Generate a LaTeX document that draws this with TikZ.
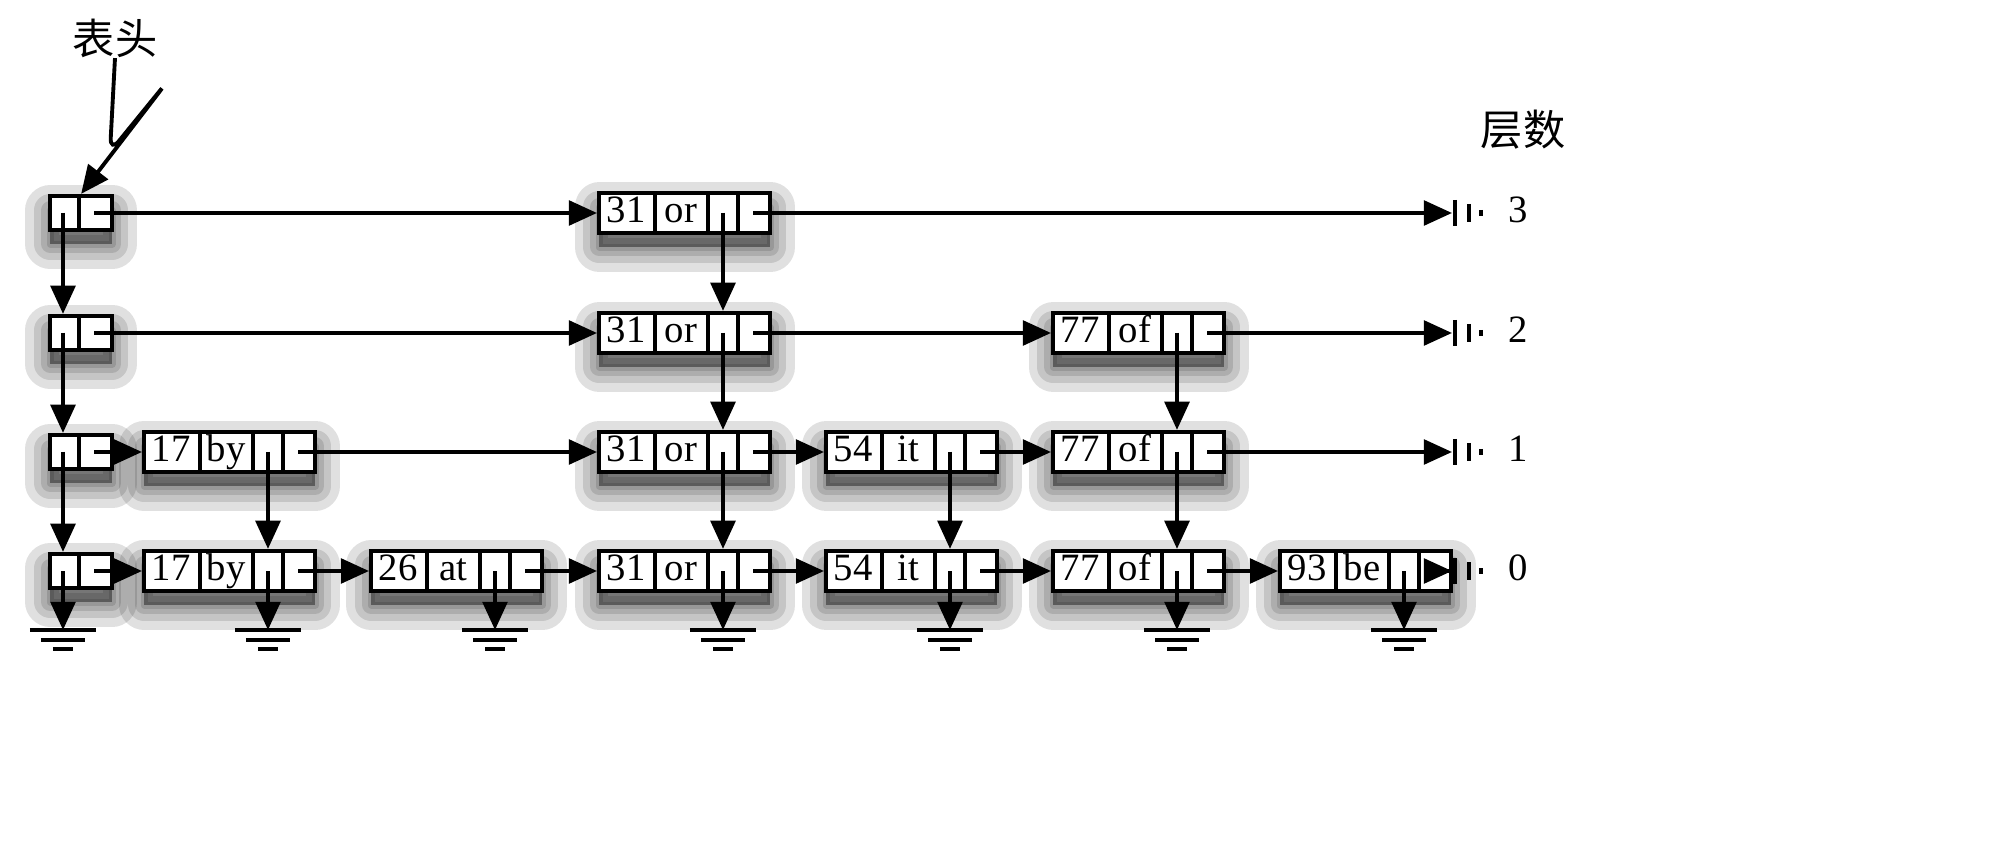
\documentclass[tikz,border=0pt]{standalone}
\usepackage{fontspec}
\setmainfont{Liberation Serif}
\newfontfamily\cjk{Noto Sans CJK SC}
\usetikzlibrary{arrows.meta}

\tikzset{
  softshadow/.style={preaction={draw=black, fill=black, line width=#1, opacity=0.12,
    line join=round, transform canvas={yshift=-4pt}}},
  rec/.style={draw, line width=1.2pt, fill=white, minimum width=1.71cm, minimum height=0.4cm,
    inner sep=0pt, anchor=west,
    softshadow=14pt, softshadow=9pt, softshadow=5pt, softshadow=2pt},
  hd/.style={rec, minimum width=0.62cm, minimum height=0.34cm},
  arr/.style={line width=1.1pt, -{Triangle[length=8pt,width=7pt]}},
  lbl/.style={font=\fontsize{11}{13}\selectfont, inner sep=0pt, text height=7.5pt, text depth=2pt}
}

% record: name, left x, y, key, value
\newcommand\skiprec[5]{%
  \node[rec] (#1) at (#2,#3) {};
  \begin{scope}[shift={(#1.west)}]
    \draw[line width=1.2pt] (58,-20) -- (58,20) (111,-20) -- (111,20) (141,-20) -- (141,20);
    \node[lbl] at (29,0) {#4};
    \node[lbl] at (84,0) {#5};
    \coordinate (#1-d) at (126,0);
    \coordinate (#1-r) at (156,0);
    \draw[line width=1.2pt] (126,0) -- (126,20) (156,0) -- (171,0);
  \end{scope}}
% head: name, y
\newcommand\skiphead[2]{%
  \node[hd] (#1) at (48,#2) {};
  \begin{scope}[shift={(#1.west)}]
    \draw[line width=1.2pt] (31,-17) -- (31,17);
    \coordinate (#1-d) at (15,0);
    \coordinate (#1-r) at (46,0);
    \draw[line width=1.2pt] (15,0) -- (15,17) (46,0) -- (62,0);
  \end{scope}}
% end marker: name, y, level
\newcommand\skipend[3]{%
  \coordinate (#1) at (1452,#2);
  \draw[line width=1.4pt] (1455,#2-13) -- (1455,#2+13);
  \draw[line width=1.2pt] (1469,#2-9) -- (1469,#2+9);
  \draw[line width=1.2pt] (1481,#2-3) -- (1481,#2+3);
  \node[lbl] at (1518,#2) {#3};}

\begin{document}
\begin{tikzpicture}[x=0.01cm, y=-0.01cm]
\useasboundingbox (0,0) rectangle (2000,858);

%% heads
\skiphead{h3}{213} \skiphead{h2}{333} \skiphead{h1}{452} \skiphead{h0}{571}

%% records
\skiprec{a3}{597}{213}{31}{or}
\skiprec{a2}{597}{333}{31}{or} \skiprec{g2}{1051}{333}{77}{of}
\skiprec{b1}{142}{452}{17}{by} \skiprec{a1}{597}{452}{31}{or}
\skiprec{e1}{824}{452}{54}{it} \skiprec{g1}{1051}{452}{77}{of}
\skiprec{b0}{142}{571}{17}{by} \skiprec{c0}{369}{571}{26}{at}
\skiprec{a0}{597}{571}{31}{or} \skiprec{e0}{824}{571}{54}{it}
\skiprec{g0}{1051}{571}{77}{of} \skiprec{k0}{1278}{571}{93}{be}

%% ends
\skipend{z3}{213}{3} \skipend{z2}{333}{2} \skipend{z1}{452}{1} \skipend{z0}{571}{0}
\node[font=\cjk\fontsize{12}{14}\selectfont, inner sep=0pt] (lv) at (1523,130) {层数};

%% label of head
\node[font=\cjk\fontsize{12}{14}\selectfont, inner sep=0pt] (top) at (115,38) {表头};
\draw[arr, rounded corners=4pt] (top.south) -- (110,152) -- (167,82) -- (h3.north);

%% level links
\draw[arr] (h3-r) -- (a3.west); \draw[arr] (a3-r) -- (z3);
\draw[arr] (h2-r) -- (a2.west); \draw[arr] (a2-r) -- (g2.west); \draw[arr] (g2-r) -- (z2);
\draw[arr] (h1-r) -- (b1.west); \draw[arr] (b1-r) -- (a1.west); \draw[arr] (a1-r) -- (e1.west);
\draw[arr] (e1-r) -- (g1.west); \draw[arr] (g1-r) -- (z1);
\draw[arr] (h0-r) -- (b0.west); \draw[arr] (b0-r) -- (c0.west); \draw[arr] (c0-r) -- (a0.west);
\draw[arr] (a0-r) -- (e0.west); \draw[arr] (e0-r) -- (g0.west); \draw[arr] (g0-r) -- (k0.west);
\draw[arr] (k0-r) -- (z0);

%% down links
\foreach \u/\v in {h3/h2, h2/h1, h1/h0, a3/a2, a2/a1, a1/a0, g2/g1, g1/g0, b1/b0, e1/e0}
  \draw[arr] (\u-d) -- (\u-d |- \v.north);

%% ground
\foreach \u in {h0, b0, c0, a0, e0, g0, k0} {
  \coordinate (\u-g) at (\u-d |- 0,630);
  \draw[arr] (\u-d) -- (\u-g);
  \draw[line width=1.2pt] ([xshift=-0.33cm]\u-g) -- ([xshift=0.33cm]\u-g)
    ([xshift=-0.22cm,yshift=-0.1cm]\u-g) -- ([xshift=0.22cm,yshift=-0.1cm]\u-g)
    ([xshift=-0.1cm,yshift=-0.19cm]\u-g) -- ([xshift=0.1cm,yshift=-0.19cm]\u-g);
}
\end{tikzpicture}
\end{document}
